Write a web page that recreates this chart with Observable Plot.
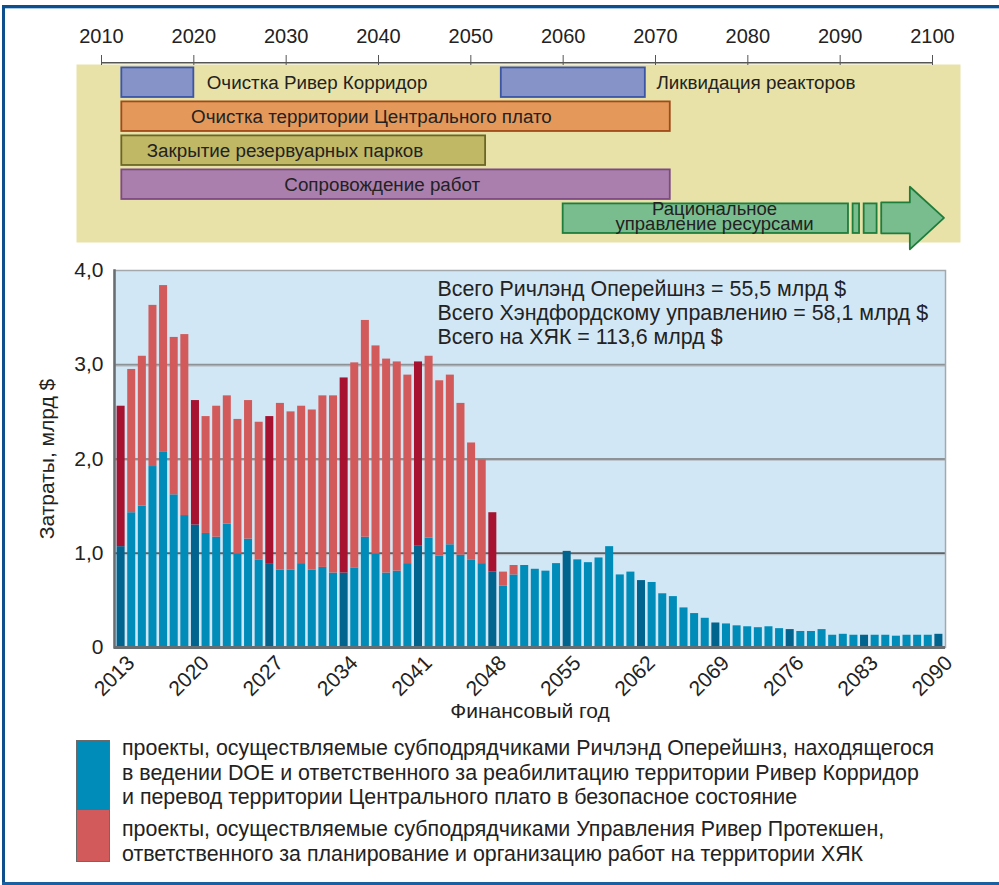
<!DOCTYPE html>
<html><head><meta charset="utf-8">
<script src="https://cdn.jsdelivr.net/npm/d3@7"></script>
<script src="https://cdn.jsdelivr.net/npm/@observablehq/plot@0.6"></script>
<style>
body{margin:0;background:#fff;font-family:"Liberation Sans",Arial,sans-serif;}
#wrap{position:relative;width:999px;height:885px;overflow:hidden;background:#fff;}
.bt{position:absolute;left:2px;top:5px;width:997px;height:3px;background:#0d4e8c;}
.bt2{position:absolute;left:5px;top:8px;width:994px;height:1px;background:#a9c9e8;}
.bl{position:absolute;left:2px;top:5px;width:3px;height:880px;background:#0d4e8c;}
.bb{position:absolute;left:2px;top:882px;width:997px;height:3px;background:#1a5f9f;}
#timeline{position:absolute;left:0;top:0;}
#bars{position:absolute;left:0;top:250px;}
#legend{position:absolute;left:76px;top:740px;}
.sw{position:absolute;left:0;width:32px;border:1.5px solid #6a6a6a;}
.lt{position:absolute;left:46px;white-space:nowrap;font-size:21.4px;line-height:24.5px;color:#222;}
</style></head><body>
<div id="wrap">
  <div class="bt"></div><div class="bt2"></div><div class="bl"></div><div class="bb"></div>
  <div id="timeline"></div>
  <div id="bars"></div>
  <div id="legend"></div>
</div>
<script>
// ---------- Bar chart data ----------
const years = [2013,2014,2015,2016,2017,2018,2019,2020,2021,2022,2023,2024,2025,2026,2027,2028,2029,2030,2031,2032,
  2033,2034,2035,2036,2037,2038,2039,2040,2041,2042,2043,2044,2045,2046,2047,2048,2049,2050,2051,2052,
  2053,2054,2055,2056,2057,2058,2059,2060,2061,2062,2063,2064,2065,2066,2067,2068,2069,2070,2071,2072,
  2073,2074,2075,2076,2077,2078,2079,2080,2081,2082,2083,2084,2085,2086,2087,2088,2089,2090];
const richland = [1.07,1.43,1.50,1.92,2.07,1.62,1.40,1.30,1.21,1.17,1.31,0.99,1.15,0.93,0.89,0.82,0.82,0.89,0.82,0.85,
  0.79,0.79,0.84,1.17,0.99,0.79,0.81,0.89,1.08,1.16,0.97,1.09,0.98,0.93,0.89,0.80,0.65,0.77,0.87,0.83,
  0.81,0.89,1.02,0.93,0.90,0.95,1.07,0.77,0.80,0.71,0.69,0.57,0.54,0.42,0.36,0.31,0.26,0.25,0.23,0.22,
  0.21,0.22,0.20,0.19,0.17,0.17,0.19,0.13,0.14,0.13,0.13,0.13,0.13,0.12,0.13,0.13,0.13,0.14];
const riverProtection = [1.49,1.52,1.59,1.71,1.77,1.67,1.92,1.32,1.24,1.39,1.36,1.43,1.47,1.46,1.56,1.77,1.68,1.67,1.70,1.82,
  1.88,2.07,2.18,2.30,2.21,2.27,2.22,2.00,1.95,1.93,1.86,1.80,1.61,1.24,1.10,0.63,0.15,0.10,0,0,
  0,0,0,0,0,0,0,0,0,0,0,0,0,0,0,0,0,0,0,0,
  0,0,0,0,0,0,0,0,0,0,0,0,0,0,0,0,0,0];
const yearTicks = [2013,2020,2027,2034,2041,2048,2055,2062,2069,2076,2083,2090];
const yTicks = [0,1,2,3,4];
const gridValues = [1,2,3];
const yLabel = "Затраты, млрд $";
const xLabel = "Финансовый год";
const annotationLines = ["Всего Ричлэнд Оперейшнз = 55,5 млрд $","Всего Хэндфордскому управлению = 58,1 млрд $","Всего на ХЯК = 113,6 млрд $"];

// ---------- Timeline data ----------
const timelineTicks = [2010,2020,2030,2040,2050,2060,2070,2080,2090,2100];
const segRow   = [0, 0, 1, 2, 3, 4, 4, 4];
const segStart = [2012.2, 2053.3, 2012.2, 2012.2, 2012.2, 2060.0, 2091.4, 2092.6];
const segEnd   = [2020.0, 2068.9, 2071.6, 2051.6, 2071.6, 2090.9, 2092.1, 2094.0];
const segKind  = ["river","river","plateau","tank","support","resource","resource","resource"];
const labelRow = [0, 0, 1, 2, 3, 4];
const labelX   = [2021.4, 2070.1, 2019.7, 2014.9, 2029.8, 2076.4];
const labelText = ["Очистка Ривер Корридор","Ликвидация реакторов","Очистка территории Центрального плато",
  "Закрытие резервуарных парков","Сопровождение работ","Рациональное\nуправление ресурсами"];
const labelAnchor = ["start","start","start","start","start","middle"];
const arrowX  = [2094.5, 2097.6, 2097.6, 2101.3];
const arrowLo = [4.07, 4.07, 3.61, 4.525];
const arrowHi = [4.98, 4.98, 5.45, 4.525];

const legendItems = [
  "проекты, осуществляемые субподрядчиками Ричлэнд Оперейшнз, находящегося\nв ведении DOE и ответственного за реабилитацию территории Ривер Корридор\nи перевод территории Центрального плато в безопасное состояние",
  "проекты, осуществляемые субподрядчиками Управления Ривер Протекшен,\nответственного за планирование и организацию работ на территории ХЯК"
];

// ---------- Styles ----------
const kindFill = {river:"#8593c9", plateau:"#e4995a", tank:"#c1b865", support:"#aa7fad", resource:"#79bd8f"};
const kindStroke = {river:"#3c55a5", plateau:"#9e4a1a", tank:"#6b6626", support:"#7b4a80", resource:"#1f7d3c"};
const FONT = "'Liberation Sans', Arial, sans-serif";

// ---------- Timeline plot ----------
const segs = segRow.map((r,i)=>({row:r, start:segStart[i], end:segEnd[i], kind:segKind[i]}));
const labels = labelRow.map((r,i)=>({row:r, x:labelX[i], text:labelText[i], anchor:labelAnchor[i]}));
const arrow = arrowX.map((x,i)=>({x, lo:arrowLo[i], hi:arrowHi[i]}));
const pxPerYear = 831/90;

const timeline = Plot.plot({
  width: 999, height: 250,
  marginLeft: 76, marginRight: 39, marginTop: 64, marginBottom: 8,
  style: {fontFamily: FONT, fontSize: "19px", color: "#222", background: "transparent", overflow: "visible"},
  x: {domain: [2010 - 25/pxPerYear, 2100 + 28/pxPerYear]},
  y: {domain: [0, 178/34], reverse: true, axis: null},
  color: {type: "identity"},
  marks: [
    Plot.frame({fill: "#e8e2a8"}),
    Plot.axisX({anchor: "top", ticks: timelineTicks, tickFormat: d => String(d), tickSize: 10, tickPadding: 12, fontSize: 20, stroke: "#555"}),
    Plot.ruleY([-0.05], {x1: timelineTicks[0], x2: timelineTicks[timelineTicks.length-1], stroke: "#555", strokeWidth: 1.5}),
    Plot.rect(segs, {x1: "start", x2: "end", y1: d => d.row + 0.1, y2: d => d.row + 0.97,
      fill: d => kindFill[d.kind], stroke: d => kindStroke[d.kind], strokeWidth: 1.8}),
    Plot.area(arrow, {x1: "x", y1: "lo", y2: "hi", fill: kindFill.resource, stroke: kindStroke.resource, strokeWidth: 1.8, curve: "linear"}),
    Plot.text(labels.filter(d=>d.anchor==="start"), {x: "x", y: d => d.row + 0.535, text: "text", textAnchor: "start", fill: "#222", fontSize: 18.8}),
    Plot.text(labels.filter(d=>d.anchor==="middle"), {x: "x", y: d => d.row + 0.5, text: "text", textAnchor: "middle", lineHeight: 0.82, fill: "#222", fontSize: 18.5})
  ]
});
document.getElementById("timeline").appendChild(timeline);

// ---------- Bar plot ----------
const rows = [];
years.forEach((yr,i)=>rows.push({year: yr, series: "richland", value: richland[i]}));
years.forEach((yr,i)=>rows.push({year: yr, series: "orp", value: riverProtection[i]}));
const fillFor = d => {
  const hi = yearTicks.includes(d.year);
  return d.series === "richland" ? (hi ? "#00648e" : "#008cb9") : (hi ? "#a6122f" : "#d35a5a");
};

const bars = Plot.plot({
  width: 999, height: 480,
  marginLeft: 114, marginRight: 54, marginTop: 20, marginBottom: 83,
  style: {fontFamily: FONT, fontSize: "21px", color: "#222", background: "transparent", overflow: "visible"},
  x: {type: "band", domain: years, padding: 0.245},
  y: {domain: [0, 4]},
  color: {type: "identity"},
  marks: [
    Plot.frame({fill: "#d2e7f5"}),
    Plot.ruleY(gridValues, {stroke: d => d === 1 ? "#5c6166" : "#8d9297", strokeWidth: 2}),
    Plot.ruleY(gridValues, {stroke: "#bcc5cd", strokeWidth: 1, dy: 1.5}),
    Plot.barY(rows, {x: "year", y: "value", z: "series", fill: fillFor}),
    Plot.frame({stroke: "#a3a8ad", strokeWidth: 1.5}),
    Plot.frame({anchor: "left", stroke: "#686d72", strokeWidth: 2.5}),
    Plot.ruleY([0], {stroke: "#686d72", strokeWidth: 3}),
    Plot.axisY({ticks: yTicks, tickSize: 0, tickPadding: 11, fontSize: 21,
      tickFormat: d => d === 0 ? "0" : d.toFixed(1).replace(".", ","), label: null}),
    Plot.axisX({ticks: yearTicks, tickSize: 0, tickRotate: -45, tickPadding: 8, dx: 10, dy: 4, fontSize: 21, tickFormat: d => String(d), label: null}),
    Plot.text([xLabel], {frameAnchor: "bottom", dy: 70, fontSize: 21, fill: "#222"}),
    Plot.text([yLabel], {frameAnchor: "left", textAnchor: "middle", dx: -67, rotate: -90, fontSize: 21, fill: "#222"}),
    Plot.text([annotationLines.join("\n")], {frameAnchor: "top-left", dx: 323, dy: 8, lineAnchor: "top", textAnchor: "start", lineHeight: 1.13, fontSize: 21.4, fill: "#222"})
  ]
});
document.getElementById("bars").appendChild(bars);

// ---------- Legend ----------
const legend = document.getElementById("legend");
const legendColors = ["#008cb9", "#d35a5a"];
const swTop = [0, 70], swH = [70, 52], txtTop = [-4, 77];
legendItems.forEach((t, i) => {
  const sw = document.createElement("div");
  sw.className = "sw";
  sw.style.top = swTop[i] + "px";
  sw.style.height = (swH[i] - 1.5) + "px";
  sw.style.background = legendColors[i];
  sw.style.borderTopWidth = i === 1 ? "0" : "1.5px";
  legend.appendChild(sw);
  const tx = document.createElement("div");
  tx.className = "lt";
  tx.style.top = txtTop[i] + "px";
  tx.innerText = t;
  legend.appendChild(tx);
});
</script>
</body></html>
